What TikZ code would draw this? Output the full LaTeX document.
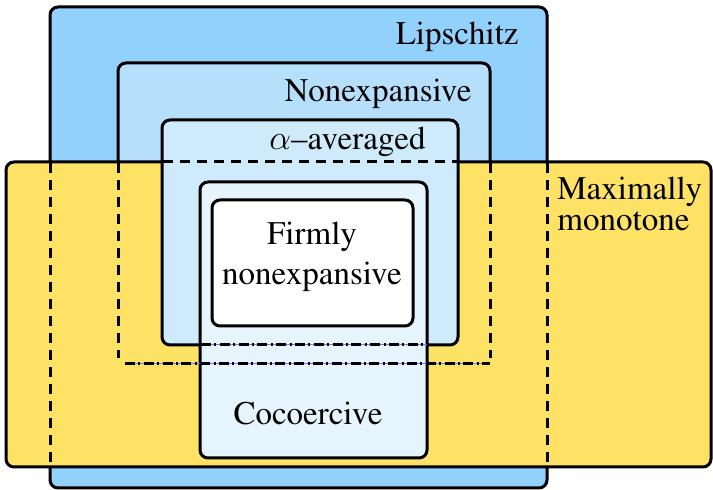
\documentclass[tikz,border=0pt]{standalone}
\usepackage[T1]{fontenc}
\renewcommand{\rmdefault}{ptm}
\definecolor{lipc}{HTML}{93D1FD}
\definecolor{nonc}{HTML}{B6DFFB}
\definecolor{avgc}{HTML}{CFEAFB}
\definecolor{cocc}{HTML}{E6F4FE}
\definecolor{maxc}{HTML}{FDE265}
\begin{document}
\begin{tikzpicture}[x=0.5pt,y=-0.5pt,
  box/.style={draw=black, line width=1.5pt, rounded corners=4pt},
  dsh/.style={draw=black, line width=1.5pt, dash pattern=on 5pt off 3.5pt},
  dashdot/.style={draw=black, line width=1.5pt, dash pattern=on 5pt off 1.7pt on 1pt off 1.7pt},
  under/.style={draw=blue!55, line width=0.5pt},
  lbl/.style={font=\fontsize{16.5}{20}\selectfont, inner sep=0pt}]
\useasboundingbox (0,0) rectangle (713,490);
% Lipschitz and Nonexpansive
\draw[box, fill=lipc] (50,7) rectangle (547,488);
\draw[box, fill=nonc] (118,63) rectangle (490,364);
% Maximally monotone
\draw[box, fill=maxc] (6,162) rectangle (711,467);
% hidden borders inside the yellow box
\draw[dsh] (50,163) -- (50,467);
\draw[dsh] (547,163) -- (547,467);
\draw[dsh] (118,163) -- (118,358);
\draw[dsh] (490,163) -- (490,358);
% alpha-averaged
\draw[box, fill=avgc] (162,120) rectangle (458,345);
\draw[dsh] (163,162) -- (458,162);
% Cocoercive
\draw[box, fill=cocc] (200,182) rectangle (427,458);
\draw[under] (201,345) -- (427,345);
\draw[dashdot] (201,345) -- (427,345);
\draw[under] (125,364) -- (490,364);
\draw[dashdot] (125,364) -- (490,364);
% Firmly nonexpansive
\draw[box, fill=white] (212,200) rectangle (413,326);
% labels
\node[lbl, anchor=base east] (lip) at (519,45) {Lipschitz};
\node[lbl, anchor=base east] (non) at (472,102) {Nonexpansive};
\node[lbl, anchor=base east] (avg) at (426,150) {$\alpha$--averaged};
\node[lbl, anchor=north west, align=left, font=\fontsize{16.5}{15.5}\selectfont] (max) at (557,177) {Maximally\\monotone};
\node[lbl, align=center] (firm) at (312,257) {Firmly\\nonexpansive};
\node[lbl, anchor=base] (coc) at (308,425) {Cocoercive};
\end{tikzpicture}
\end{document}
